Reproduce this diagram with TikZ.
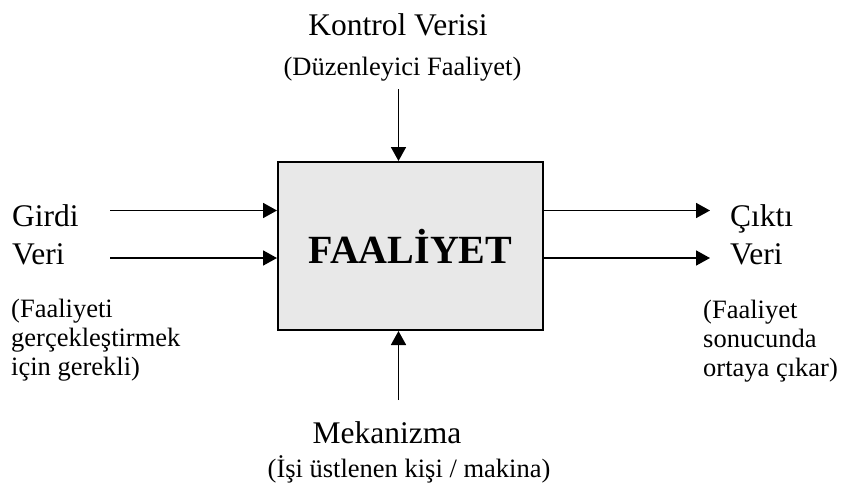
\documentclass[tikz,border=0pt]{standalone}
\usepackage{fontspec}
\setmainfont{Liberation Serif}
\usetikzlibrary{arrows.meta}
\definecolor{boxfill}{HTML}{E8E8E8}
\tikzset{
  big/.style={inner sep=0pt, font=\fontsize{31.5}{36}\selectfont},
  small/.style={inner sep=0pt, font=\fontsize{26.5}{30}\selectfont},
  actbox/.style={draw=black, line width=2pt, fill=boxfill, minimum width=265pt,
    minimum height=168pt, inner sep=0pt, font=\fontsize{40}{46}\selectfont\bfseries},
  arr/.style={line width=1.7pt, -{Triangle[width=15pt,length=14pt]}}
}
\begin{document}
\begin{tikzpicture}[x=1pt,y=-1pt]
  \useasboundingbox[fill=white] (0,0) rectangle (843,493);

  % central activity box
  \node[actbox] (box) at (410.5,246) {FAAL\.{I}YET};

  % control (top)
  \node[big, anchor=base] (ctltitle) at (398,35) {Kontrol Verisi};
  \node[small, anchor=base] (ctlnote) at (402.5,75) {(Düzenleyici Faaliyet)};
  \coordinate (ctl) at (398.5,89);
  \draw[arr] (ctl) -- (ctl |- box.north);

  % inputs (left)
  \node[big, anchor=base west] (inA) at (12,226) {Girdi};
  \node[big, anchor=base west] (inB) at (12,264) {Veri};
  \node[small, anchor=base west] (inN1) at (11,317) {(Faaliyeti};
  \node[small, anchor=base west] (inN2) at (11,346) {gerçekleştirmek};
  \node[small, anchor=base west] (inN3) at (11,375) {için gerekli)};
  \coordinate (in1) at (110,210.5);
  \coordinate (in2) at (110,258);
  \draw[arr] (in1) -- (in1 -| box.west);
  \draw[arr] (in2) -- (in2 -| box.west);

  % outputs (right)
  \node[big, anchor=base west] (outA) at (730,226) {Çıktı};
  \node[big, anchor=base west] (outB) at (730,264) {Veri};
  \node[small, anchor=base west] (outN1) at (703,318) {(Faaliyet};
  \node[small, anchor=base west] (outN2) at (703,347) {sonucunda};
  \node[small, anchor=base west] (outN3) at (703,376) {ortaya çıkar)};
  \coordinate (out1) at (710,210.5);
  \coordinate (out2) at (710,258);
  \draw[arr] (out1 -| box.east) -- (out1);
  \draw[arr] (out2 -| box.east) -- (out2);

  % mechanism (bottom)
  \coordinate (mech) at (398.5,400);
  \draw[arr] (mech) -- (mech |- box.south);
  \node[big, anchor=base] (mechtitle) at (387,443) {Mekanizma};
  \node[small, anchor=base] (mechnote) at (409,477) {(İşi üstlenen kişi / makina)};
\end{tikzpicture}
\end{document}
